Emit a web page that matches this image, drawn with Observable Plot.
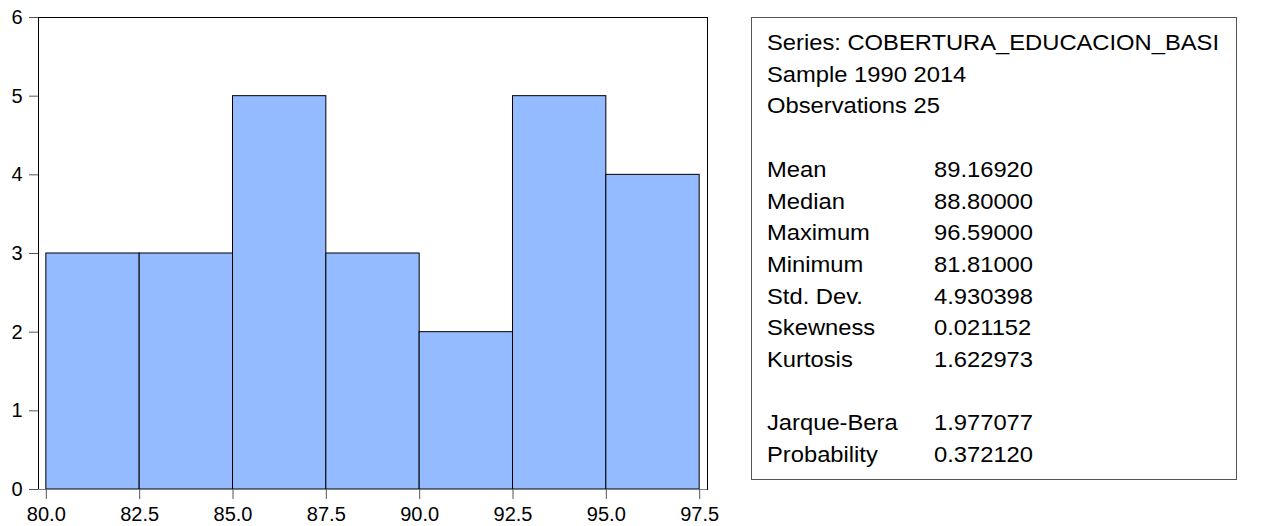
<!DOCTYPE html>
<html>
<head>
<meta charset="utf-8">
<script src="https://cdn.jsdelivr.net/npm/d3@7"></script>
<script src="https://cdn.jsdelivr.net/npm/@observablehq/plot@0.6"></script>
<style>
  body { margin: 0; background: #fff; font-family: "Liberation Sans", Arial, sans-serif; }
  #wrap { position: relative; width: 1261px; height: 526px; overflow: hidden; }
  #wrap > svg { position: absolute; left: 0; top: 0; }
</style>
</head>
<body>
<div id="wrap"></div>
<script>
// Histogram bins (left edges) and their counts
const binStarts = [80.0, 82.5, 85.0, 87.5, 90.0, 92.5, 95.0];
const binWidth = 2.5;
const binCounts = [3, 3, 5, 3, 2, 5, 4];

// Axis tick values
const xTicks = [80.0, 82.5, 85.0, 87.5, 90.0, 92.5, 95.0, 97.5];
const yTicks = [0, 1, 2, 3, 4, 5, 6];

// Descriptive statistics panel
const headerLines = ["Series: COBERTURA_EDUCACION_BASI", "Sample 1990 2014", "Observations 25"];
const statNames = ["Mean", "Median", "Maximum", "Minimum", "Std. Dev.", "Skewness", "Kurtosis"];
const statValues = ["89.16920", "88.80000", "96.59000", "81.81000", "4.930398", "0.021152", "1.622973"];
const testNames = ["Jarque-Bera", "Probability"];
const testValues = ["1.977077", "0.372120"];

const bins = binStarts.map((x0, i) => ({x1: x0, x2: x0 + binWidth, count: binCounts[i]}));

const chart = Plot.plot({
  width: 720,
  height: 526,
  marginLeft: 38,
  marginRight: 13,
  marginTop: 17,
  marginBottom: 37,
  style: {fontFamily: "'Liberation Sans', Arial, sans-serif", fontSize: "20px", color: "#000", background: "transparent"},
  x: {domain: [79.79, 97.71]},
  y: {domain: [0, 6]},
  marks: [
    Plot.rectY(bins, {x1: "x1", x2: "x2", y1: 0, y2: "count", fill: "#94bbff", stroke: "#000", strokeWidth: 1}),
    Plot.frame({stroke: "#000"}),
    Plot.ruleY([0], {stroke: "#808080"}),
    Plot.axisX({ticks: xTicks, tickFormat: d3.format(".1f"), tickSize: 10, tickPadding: 7, stroke: "#555", fill: "#000", label: null}),
    Plot.axisY({ticks: yTicks, tickFormat: d3.format("d"), tickSize: 9, tickPadding: 7, stroke: "#555", fill: "#000", label: null})
  ]
});
document.getElementById("wrap").appendChild(chart);

// Statistics box drawn beside the histogram
const svg = d3.select("#wrap").append("svg")
  .attr("width", 1261).attr("height", 526)
  .style("font-family", "'Liberation Sans', Arial, sans-serif")
  .style("font-size", "22px");

svg.append("rect")
  .attr("x", 751.5).attr("y", 17.5).attr("width", 485).attr("height", 462)
  .attr("fill", "#fff").attr("stroke", "#555").attr("stroke-width", 1);

const pitch = 31.7;
const firstBaseline = 50;
const labelX = 767;
const valueX = 934;
const stretch = 1.08;

function line(text, x, row) {
  svg.append("text")
    .attr("transform", `translate(${x},${firstBaseline + row * pitch}) scale(${stretch},1)`)
    .attr("fill", "#000")
    .text(text);
}

headerLines.forEach((t, i) => line(t, labelX, i));
statNames.forEach((t, i) => { line(t, labelX, 4 + i); line(statValues[i], valueX, 4 + i); });
testNames.forEach((t, i) => { line(t, labelX, 12 + i); line(testValues[i], valueX, 12 + i); });
</script>
</body>
</html>
